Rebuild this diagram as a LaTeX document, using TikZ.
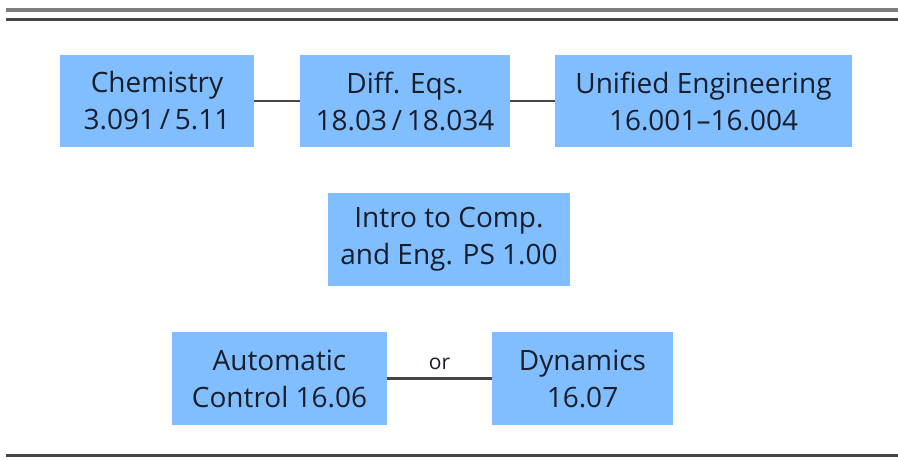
\documentclass[tikz,border=0pt]{standalone}
\usepackage{fontspec}
\setmainfont{Open Sans}
\definecolor{boxblue}{RGB}{128,190,255}
\definecolor{txt}{RGB}{25,30,45}
\definecolor{rule1}{RGB}{125,125,125}
\definecolor{rule2}{RGB}{70,70,70}
\begin{document}
\begin{tikzpicture}[x=1pt,y=-1pt,
  course/.style={rectangle,fill=boxblue,draw=none,text=txt,align=center,
    inner sep=0pt,font=\fontsize{28}{37}\selectfont},
  link/.style={draw=rule2,line width=2.2pt}]
\useasboundingbox (0,0) rectangle (898,461);
\fill[white] (0,0) rectangle (898,461);
\draw[rule1,line width=4pt] (6,10) -- (898,10);
\draw[rule2,line width=3pt] (6,19) -- (898,19);
\draw[rule2,line width=3pt] (6,455) -- (898,455);
\node[course,minimum width=194,minimum height=92] (chem) at (157,101) {Chemistry\\3.091\,/\,5.11};
\node[course,minimum width=210,minimum height=92] (diff) at (405,101) {Diff. Eqs.\\18.03\,/\,18.034};
\node[course,minimum width=297,minimum height=92] (unif) at (703.5,101) {Unified Engineering\\16.001--16.004};
\node[course,minimum width=242,minimum height=93] (intro) at (449,239.5) {Intro to Comp.\\and Eng. PS 1.00};
\node[course,minimum width=215,minimum height=93] (auto) at (279.5,378.5) {Automatic\\Control 16.06};
\node[course,minimum width=181,minimum height=93] (dyn) at (582.5,378.5) {Dynamics\\16.07};
\draw[link] (chem) -- (diff);
\draw[link] (diff) -- (unif);
\draw[link] (auto) -- node[above=4pt,text=txt,font=\fontsize{21}{24}\selectfont] (or) {or} (dyn);
\end{tikzpicture}
\end{document}
